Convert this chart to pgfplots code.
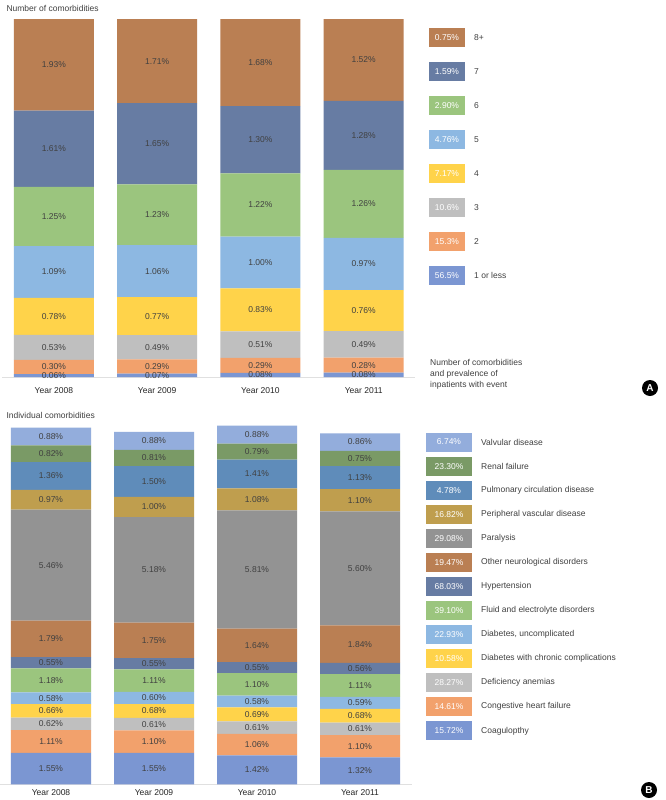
\documentclass[border=0pt]{standalone}
\usepackage{pgfplots}
\usepackage{pgfplotstable}
\pgfplotsset{compat=1.18}
\usepackage{fontspec}
\setmainfont{Liberation Sans}

\definecolor{cA1}{HTML}{7B96D2}
\definecolor{cA2}{HTML}{F2A16C}
\definecolor{cA3}{HTML}{BFBFBF}
\definecolor{cA4}{HTML}{FFD34A}
\definecolor{cA5}{HTML}{8DB8E2}
\definecolor{cA6}{HTML}{9BC57E}
\definecolor{cA7}{HTML}{677CA3}
\definecolor{cA8}{HTML}{BA7F53}
\definecolor{cValv}{HTML}{93ADDC}
\definecolor{cRen}{HTML}{7A9A66}
\definecolor{cPul}{HTML}{5F8CBA}
\definecolor{cPvd}{HTML}{BF9E4E}
\definecolor{cPar}{HTML}{939393}
\definecolor{txt}{HTML}{404040}

% Panel A: raw shares, t = total of the year (bars are drawn as 100% stacked)
\pgfplotstableread{
x t c1 c2 c3 c4 c5 c6 c7 c8
0 7.55 0.06 0.30 0.53 0.78 1.09 1.25 1.61 1.93
1 7.27 0.07 0.29 0.49 0.77 1.06 1.23 1.65 1.71
2 6.91 0.08 0.29 0.51 0.83 1.00 1.22 1.30 1.68
3 6.64 0.08 0.28 0.49 0.76 0.97 1.26 1.28 1.52
}\tabA

% Panel B
\pgfplotstableread{
x coag chf anem dchr dunc fluid htn neuro para pvd pulm renal valv
0 1.55 1.11 0.62 0.66 0.58 1.18 0.55 1.79 5.46 0.97 1.36 0.82 0.88
1 1.55 1.10 0.61 0.68 0.60 1.11 0.55 1.75 5.18 1.00 1.50 0.81 0.88
2 1.42 1.06 0.61 0.69 0.58 1.10 0.55 1.64 5.81 1.08 1.41 0.79 0.88
3 1.32 1.10 0.61 0.68 0.59 1.11 0.56 1.84 5.60 1.10 1.13 0.75 0.86
}\tabB

\newcommand{\fs}{\fontsize{8.5}{10}\selectfont}

\pgfplotsset{
  geomA/.style={scale only axis, at={(2.3pt,-377pt)}, anchor=south west,
    width=413pt, height=358pt, xmin=-0.5, xmax=3.5, ymin=0, ymax=100, clip=false},
  geomB/.style={scale only axis, at={(-0.5pt,-784.3pt)}, anchor=south west,
    width=412pt, height=366.3pt, xmin=-0.5, xmax=3.5, ymin=0, ymax=18, clip=false},
  panel/.style={
    ybar stacked, bar width=80pt,
    axis y line=none,
    axis x line*=bottom,
    x axis line style={draw=black!12, line width=0.8pt},
    xtick={0,1,2,3},
    xticklabels={Year 2008,Year 2009,Year 2010,Year 2011},
    major tick length=0pt,
    xticklabel style={font=\fs, text=black!85},
  },
  labels/.style={
    hide axis,
    point meta=explicit,
    nodes near coords={\pgfmathprintnumber[assume math mode=true,fixed,fixed zerofill,precision=2]{\pgfplotspointmeta}\%},
    every node near coord/.append style={font=\fs, text=txt, anchor=center, inner sep=0pt},
  },
  lab/.style={draw=none, mark=none},
}

\begin{document}
\begin{tikzpicture}[x=1pt,y=1pt]
\path[use as bounding box, fill=white] (0,0) rectangle (665,-800);

% ---------------- Panel A ----------------
\node[anchor=west, font=\fs, text=txt] at (3,-8) {Number of comorbidities};
\begin{axis}[geomA, panel, xticklabel style={yshift=-7.5pt}]
\addplot[fill=cA1, draw=none] table[x=x, y expr=\thisrow{c1}/\thisrow{t}*100] {\tabA};
\addplot[fill=cA2, draw=none] table[x=x, y expr=\thisrow{c2}/\thisrow{t}*100] {\tabA};
\addplot[fill=cA3, draw=none] table[x=x, y expr=\thisrow{c3}/\thisrow{t}*100] {\tabA};
\addplot[fill=cA4, draw=none] table[x=x, y expr=\thisrow{c4}/\thisrow{t}*100] {\tabA};
\addplot[fill=cA5, draw=none] table[x=x, y expr=\thisrow{c5}/\thisrow{t}*100] {\tabA};
\addplot[fill=cA6, draw=none] table[x=x, y expr=\thisrow{c6}/\thisrow{t}*100] {\tabA};
\addplot[fill=cA7, draw=none] table[x=x, y expr=\thisrow{c7}/\thisrow{t}*100] {\tabA};
\addplot[fill=cA8, draw=none] table[x=x, y expr=\thisrow{c8}/\thisrow{t}*100] {\tabA};
\end{axis}
% value labels, centred in each segment
\begin{axis}[geomA, labels]
\addplot[lab] table[x=x, meta=c1, y expr={(\thisrow{c1}/2)/\thisrow{t}*100}] {\tabA};
\addplot[lab] table[x=x, meta=c2, y expr={(\thisrow{c1}+\thisrow{c2}/2)/\thisrow{t}*100}] {\tabA};
\addplot[lab] table[x=x, meta=c3, y expr={(\thisrow{c1}+\thisrow{c2}+\thisrow{c3}/2)/\thisrow{t}*100}] {\tabA};
\addplot[lab] table[x=x, meta=c4, y expr={(\thisrow{c1}+\thisrow{c2}+\thisrow{c3}+\thisrow{c4}/2)/\thisrow{t}*100}] {\tabA};
\addplot[lab] table[x=x, meta=c5, y expr={(\thisrow{c1}+\thisrow{c2}+\thisrow{c3}+\thisrow{c4}+\thisrow{c5}/2)/\thisrow{t}*100}] {\tabA};
\addplot[lab] table[x=x, meta=c6, y expr={(\thisrow{c1}+\thisrow{c2}+\thisrow{c3}+\thisrow{c4}+\thisrow{c5}+\thisrow{c6}/2)/\thisrow{t}*100}] {\tabA};
\addplot[lab] table[x=x, meta=c7, y expr={(\thisrow{c1}+\thisrow{c2}+\thisrow{c3}+\thisrow{c4}+\thisrow{c5}+\thisrow{c6}+\thisrow{c7}/2)/\thisrow{t}*100}] {\tabA};
\addplot[lab] table[x=x, meta=c8, y expr={(\thisrow{t}-\thisrow{c8}/2)/\thisrow{t}*100}] {\tabA};
\end{axis}

% Legend A
\foreach \c/\v/\l [count=\i from 0] in {cA8/0.75\%/8+, cA7/1.59\%/7, cA6/2.90\%/6, cA5/4.76\%/5,
   cA4/7.17\%/4, cA3/10.6\%/3, cA2/15.3\%/2, cA1/56.5\%/1 or less}{
  \node[fill=\c, minimum width=36pt, minimum height=19pt, inner sep=0pt, text=white, font=\fs]
     at (447,{-37.7-34*\i}) {\v};
  \node[anchor=west, font=\fs, text=txt, inner sep=0pt] at (474,{-37.7-34*\i}) {\l};
}
\node[anchor=north west, align=left, font=\fontsize{8.5}{11}\selectfont, text=txt, inner sep=0pt] at (430,-359)
  {Number of comorbidities\\and prevalence of\\inpatients with event};
\node[circle, fill=black, text=white, font=\fontsize{10}{10}\selectfont\bfseries, minimum size=16pt, inner sep=0pt]
  at (650,-388) {A};

% ---------------- Panel B ----------------
\node[anchor=west, font=\fs, text=txt] at (3,-415) {Individual comorbidities};
\begin{axis}[geomB, panel, xticklabel style={yshift=-2pt}]
\addplot[fill=cA1, draw=none]   table[x=x, y=coag]  {\tabB};
\addplot[fill=cA2, draw=none]   table[x=x, y=chf]   {\tabB};
\addplot[fill=cA3, draw=none]   table[x=x, y=anem]  {\tabB};
\addplot[fill=cA4, draw=none]   table[x=x, y=dchr]  {\tabB};
\addplot[fill=cA5, draw=none]   table[x=x, y=dunc]  {\tabB};
\addplot[fill=cA6, draw=none]   table[x=x, y=fluid] {\tabB};
\addplot[fill=cA7, draw=none]   table[x=x, y=htn]   {\tabB};
\addplot[fill=cA8, draw=none]   table[x=x, y=neuro] {\tabB};
\addplot[fill=cPar, draw=none]  table[x=x, y=para]  {\tabB};
\addplot[fill=cPvd, draw=none]  table[x=x, y=pvd]   {\tabB};
\addplot[fill=cPul, draw=none]  table[x=x, y=pulm]  {\tabB};
\addplot[fill=cRen, draw=none]  table[x=x, y=renal] {\tabB};
\addplot[fill=cValv, draw=none] table[x=x, y=valv]  {\tabB};
\end{axis}
\begin{axis}[geomB, labels]
\addplot[lab] table[x=x, meta=coag,  y expr={\thisrow{coag}/2}] {\tabB};
\addplot[lab] table[x=x, meta=chf,   y expr={\thisrow{coag}+\thisrow{chf}/2}] {\tabB};
\addplot[lab] table[x=x, meta=anem,  y expr={\thisrow{coag}+\thisrow{chf}+\thisrow{anem}/2}] {\tabB};
\addplot[lab] table[x=x, meta=dchr,  y expr={\thisrow{coag}+\thisrow{chf}+\thisrow{anem}+\thisrow{dchr}/2}] {\tabB};
\addplot[lab] table[x=x, meta=dunc,  y expr={\thisrow{coag}+\thisrow{chf}+\thisrow{anem}+\thisrow{dchr}+\thisrow{dunc}/2}] {\tabB};
\addplot[lab] table[x=x, meta=fluid, y expr={\thisrow{coag}+\thisrow{chf}+\thisrow{anem}+\thisrow{dchr}+\thisrow{dunc}+\thisrow{fluid}/2}] {\tabB};
\addplot[lab] table[x=x, meta=htn,   y expr={\thisrow{coag}+\thisrow{chf}+\thisrow{anem}+\thisrow{dchr}+\thisrow{dunc}+\thisrow{fluid}+\thisrow{htn}/2}] {\tabB};
\addplot[lab] table[x=x, meta=neuro, y expr={\thisrow{coag}+\thisrow{chf}+\thisrow{anem}+\thisrow{dchr}+\thisrow{dunc}+\thisrow{fluid}+\thisrow{htn}+\thisrow{neuro}/2}] {\tabB};
\addplot[lab] table[x=x, meta=para,  y expr={\thisrow{coag}+\thisrow{chf}+\thisrow{anem}+\thisrow{dchr}+\thisrow{dunc}+\thisrow{fluid}+\thisrow{htn}+\thisrow{neuro}+\thisrow{para}/2}] {\tabB};
\addplot[lab] table[x=x, meta=pvd,   y expr={\thisrow{coag}+\thisrow{chf}+\thisrow{anem}+\thisrow{dchr}+\thisrow{dunc}+\thisrow{fluid}+\thisrow{htn}+\thisrow{neuro}+\thisrow{para}+\thisrow{pvd}/2}] {\tabB};
\addplot[lab] table[x=x, meta=pulm,  y expr={\thisrow{coag}+\thisrow{chf}+\thisrow{anem}+\thisrow{dchr}+\thisrow{dunc}+\thisrow{fluid}+\thisrow{htn}+\thisrow{neuro}+\thisrow{para}+\thisrow{pvd}+\thisrow{pulm}/2}] {\tabB};
\addplot[lab] table[x=x, meta=renal, y expr={\thisrow{coag}+\thisrow{chf}+\thisrow{anem}+\thisrow{dchr}+\thisrow{dunc}+\thisrow{fluid}+\thisrow{htn}+\thisrow{neuro}+\thisrow{para}+\thisrow{pvd}+\thisrow{pulm}+\thisrow{renal}/2}] {\tabB};
\addplot[lab] table[x=x, meta=valv,  y expr={\thisrow{coag}+\thisrow{chf}+\thisrow{anem}+\thisrow{dchr}+\thisrow{dunc}+\thisrow{fluid}+\thisrow{htn}+\thisrow{neuro}+\thisrow{para}+\thisrow{pvd}+\thisrow{pulm}+\thisrow{renal}+\thisrow{valv}/2}] {\tabB};
\end{axis}

% Legend B
\foreach \c/\v/\l [count=\i from 0] in {
   cValv/6.74\%/Valvular disease,
   cRen/23.30\%/Renal failure,
   cPul/4.78\%/Pulmonary circulation disease,
   cPvd/16.82\%/Peripheral vascular disease,
   cPar/29.08\%/Paralysis,
   cA8/19.47\%/Other neurological disorders,
   cA7/68.03\%/Hypertension,
   cA6/39.10\%/Fluid and electrolyte disorders,
   cA5/22.93\%/{Diabetes, uncomplicated},
   cA4/10.58\%/Diabetes with chronic complications,
   cA3/28.27\%/Deficiency anemias,
   cA2/14.61\%/Congestive heart failure,
   cA1/15.72\%/Coagulopthy}{
  \node[fill=\c, minimum width=46pt, minimum height=19pt, inner sep=0pt, text=white, font=\fs]
     at (449,{-442-24.07*\i}) {\v};
  \node[anchor=west, font=\fs, text=txt, inner sep=0pt] at (481,{-442-24.07*\i}) {\l};
}
\node[circle, fill=black, text=white, font=\fontsize{10}{10}\selectfont\bfseries, minimum size=16pt, inner sep=0pt]
  at (649,-790) {B};
\end{tikzpicture}
\end{document}
